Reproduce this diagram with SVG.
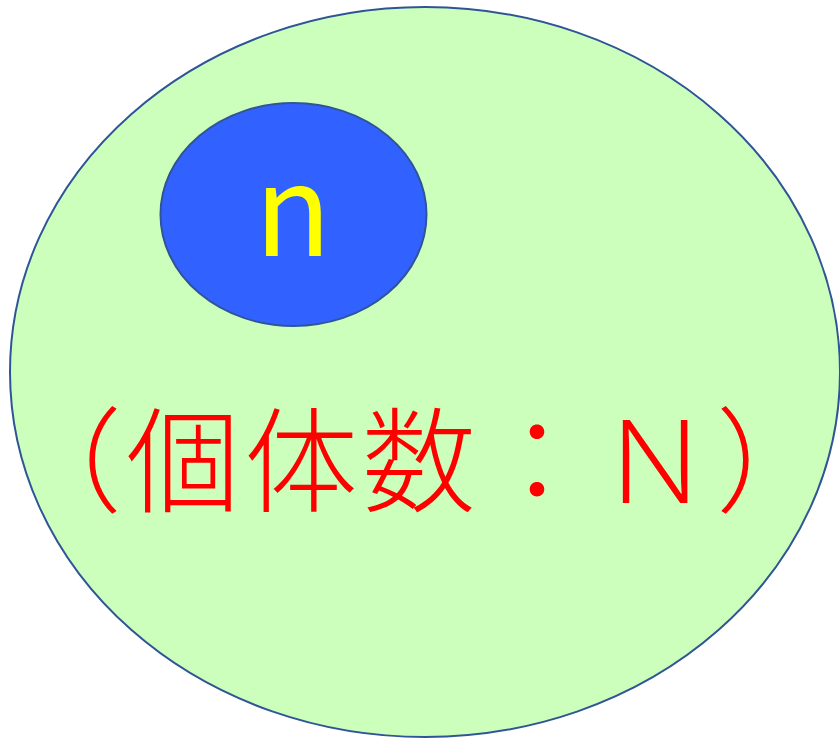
<svg xmlns="http://www.w3.org/2000/svg" width="840" height="740" viewBox="0 0 840 740">
<style>
.outline{stroke:#2F5597;stroke-width:2}
.cjk{font-family:"Noto Sans CJK JP","Noto Sans",sans-serif;font-weight:300}
.label{font-family:"Noto Sans CJK JP","Noto Sans",sans-serif;font-weight:400}
</style>
<rect width="840" height="740" fill="#FFFFFF"/>
<g id="population">
<ellipse class="outline" cx="425" cy="372" rx="415" ry="365" fill="#CCFFBB"/>
<text class="cjk" x="8" y="503" font-size="114" letter-spacing="4" fill="#FF0000">（個体数：Ｎ）</text>
</g>
<g id="sample">
<ellipse class="outline" cx="293.5" cy="214.5" rx="133" ry="111.5" fill="#3162FF"/>
<text class="label" x="293" y="256" font-size="126" fill="#FFFF00" text-anchor="middle">n</text>
</g>
</svg>
